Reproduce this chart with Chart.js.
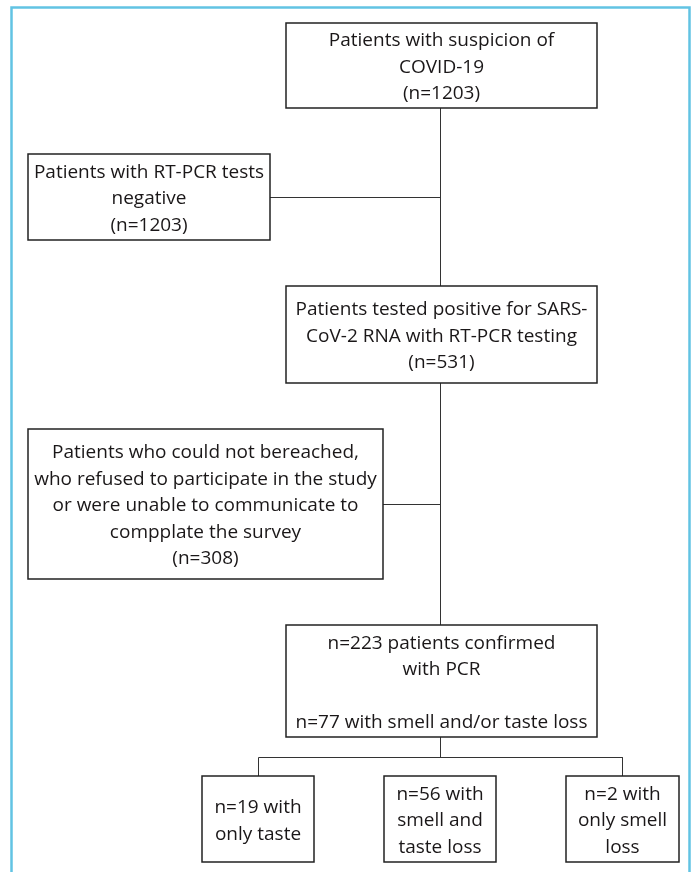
<!DOCTYPE html>
<html>
<head>
<meta charset="utf-8">
<style>
  html, body { margin: 0; padding: 0; background: #ffffff; }
  canvas { display: block; }
</style>
<script src="https://cdn.jsdelivr.net/npm/chart.js@4.4.1/dist/chart.umd.min.js"></script>
</head>
<body>
<canvas id="flow" width="696" height="872"></canvas>
<script>
// ---------------- data (content of the flow chart) ----------------
const countSuspected   = 1203;
const countNegative    = 1203;
const countPositive    = 531;
const countExcluded    = 308;
const countConfirmed   = 223;
const countLoss        = 77;
const countOnlyTaste   = 19;
const countSmellTaste  = 56;
const countOnlySmell   = 2;

const textSuspected  = ["Patients with suspicion of", "COVID-19", `(n=${countSuspected})`];
const textNegative   = ["Patients with RT-PCR tests", "negative", `(n=${countNegative})`];
const textPositive   = ["Patients tested positive for SARS-", "CoV-2 RNA with RT-PCR testing", `(n=${countPositive})`];
const textExcluded   = ["Patients who could not bereached,", "who refused to participate in the study",
                        "or were unable to communicate to", "compplate the survey", `(n=${countExcluded})`];
const textConfirmed  = [`n=${countConfirmed} patients confirmed`, "with PCR", "", `n=${countLoss} with smell and/or taste loss`];
const textOnlyTaste  = [`n=${countOnlyTaste} with`, "only taste"];
const textSmellTaste = [`n=${countSmellTaste} with`, "smell and", "taste loss"];
const textOnlySmell  = [`n=${countOnlySmell} with`, "only smell", "loss"];

// ---------------- layout (chart units: x 0..696, y 0..872 top-down) ----------------
const boxTexts = [textSuspected, textNegative, textPositive, textExcluded, textConfirmed,
                  textOnlyTaste, textSmellTaste, textOnlySmell];
const boxRects = [
  [286, 23, 597, 108],
  [28, 154, 270, 240],
  [286, 286, 597, 383],
  [28, 429, 383, 579],
  [286, 625, 597, 737],
  [202, 776, 314, 862],
  [384, 776, 496, 862],
  [566, 776, 679, 862]
];
const spineX = 440.5;
const connectorPaths = [
  [[spineX, 108], [spineX, 286]],
  [[270, 197.5], [spineX, 197.5]],
  [[spineX, 383], [spineX, 625]],
  [[383, 504.5], [spineX, 504.5]],
  [[spineX, 737], [spineX, 757.5]],
  [[258.5, 776], [258.5, 757.5], [622.5, 757.5], [622.5, 776]]
];
const frame = [11.5, 7.5, 689.5, 900];

// ---------------- datasets built from the arrays ----------------
const datasets = [];
boxRects.forEach(r => {
  const [x1, y1, x2, y2] = r;
  datasets.push({
    data: [{x: x1, y: y1}, {x: x2, y: y1}, {x: x2, y: y2}, {x: x1, y: y2}, {x: x1, y: y1}],
    showLine: true, borderColor: '#222222', borderWidth: 1.5, pointRadius: 0,
    fill: false, tension: 0, borderJoinStyle: 'miter', borderCapStyle: 'square'
  });
});
connectorPaths.forEach(p => {
  datasets.push({
    data: p.map(([x, y]) => ({x, y})),
    showLine: true, borderColor: '#333333', borderWidth: 1, pointRadius: 0,
    fill: false, tension: 0, borderJoinStyle: 'miter'
  });
});

const flowPlugin = {
  id: 'flowText',
  beforeDatasetsDraw(chart) {
    const ctx = chart.ctx, xs = chart.scales.x, ys = chart.scales.y;
    ctx.save();
    ctx.strokeStyle = '#62c3e3';
    ctx.lineWidth = 2.5;
    ctx.beginPath();
    const fx1 = xs.getPixelForValue(frame[0]), fy1 = ys.getPixelForValue(frame[1]);
    const fx2 = xs.getPixelForValue(frame[2]), fy2 = ys.getPixelForValue(frame[3]);
    ctx.moveTo(fx1, fy2);
    ctx.lineTo(fx1, fy1);
    ctx.lineTo(fx2, fy1);
    ctx.lineTo(fx2, fy2);
    ctx.stroke();
    ctx.restore();
  },
  afterDatasetsDraw(chart) {
    const ctx = chart.ctx, xs = chart.scales.x, ys = chart.scales.y;
    ctx.save();
    ctx.fillStyle = '#1a1718';
    ctx.font = '19px "Open Sans"';
    ctx.textAlign = 'center';
    ctx.textBaseline = 'middle';
    const lineH = 26.5;
    boxTexts.forEach((lines, i) => {
      const [x1, y1, x2, y2] = boxRects[i];
      const cx = xs.getPixelForValue((x1 + x2) / 2);
      const cy = ys.getPixelForValue((y1 + y2) / 2) + 2;
      const start = cy - (lines.length - 1) / 2 * lineH;
      lines.forEach((t, k) => { if (t) ctx.fillText(t, cx, start + k * lineH); });
    });
    ctx.restore();
  }
};

new Chart(document.getElementById('flow'), {
  type: 'scatter',
  data: { datasets },
  options: {
    responsive: false,
    animation: false,
    devicePixelRatio: 1,
    layout: { padding: 0 },
    plugins: { legend: { display: false }, tooltip: { enabled: false } },
    scales: {
      x: { type: 'linear', min: 0, max: 696, display: false },
      y: { type: 'linear', min: 0, max: 872, reverse: true, display: false }
    }
  },
  plugins: [flowPlugin]
});
</script>
</body>
</html>
